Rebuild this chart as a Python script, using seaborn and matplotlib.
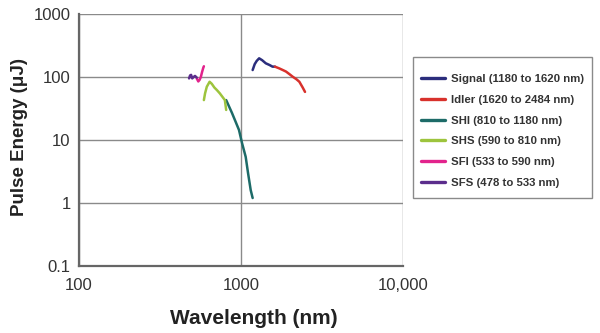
import pandas as pd
import numpy as np
import matplotlib
matplotlib.use('Agg')
import matplotlib.pyplot as plt
import matplotlib.patches as patches
import seaborn as sns
from matplotlib.ticker import FixedLocator, FixedFormatter, LogLocator, NullFormatter

# values (wavelength nm, pulse energy uJ)
signal_wl = [1180, 1215, 1250, 1294, 1350, 1422, 1500, 1565, 1620]
signal_e = [129, 160, 180, 198, 185, 165, 155, 146, 146]

idler_wl = [1620, 1722, 1800, 1896, 2000, 2086, 2200, 2292, 2404, 2484]
idler_e = [146, 137, 130, 122, 110, 101, 92, 84, 68, 58]

shi_wl = [810, 879, 930, 972, 1014, 1069, 1105, 1148, 1180]
shi_e = [43, 27, 19, 14.4, 9.0, 5.4, 3.0, 1.6, 1.2]

shs_wl = [590, 600, 615, 640, 660, 685, 710, 740, 770, 795, 810]
shs_e = [43, 55, 70, 84, 78, 68, 62, 55, 48, 43, 30]

sfi_wl = [533, 545, 555, 565, 575, 585, 590]
sfi_e = [95, 85, 90, 100, 120, 140, 148]

sfs_wl = [478, 485, 492, 500, 510, 520, 533]
sfs_e = [95, 106, 108, 95, 100, 104, 98]

labels = ['Signal (1180 to 1620 nm)', 'Idler (1620 to 2484 nm)', 'SHI (810 to 1180 nm)',
          'SHS (590 to 810 nm)', 'SFI (533 to 590 nm)', 'SFS (478 to 533 nm)']
colors = ['#2b2d7c', '#d8312c', '#1d6b68', '#9dc43d', '#e2238c', '#5b2d8c']

series = [(signal_wl, signal_e), (idler_wl, idler_e), (shi_wl, shi_e),
          (shs_wl, shs_e), (sfi_wl, sfi_e), (sfs_wl, sfs_e)]
frames = []
for lab, (wl, e) in zip(labels, series):
    frames.append(pd.DataFrame({'Wavelength': wl, 'Energy': e, 'Band': lab}))
df = pd.concat(frames, ignore_index=True)

sns.set_style('white')
plt.rcParams['font.family'] = ['Liberation Sans', 'DejaVu Sans']

fig = plt.figure(figsize=(6, 3.33), dpi=100)
ax = fig.add_axes([79/600, 1-266/333, (403-79)/600, (266-14)/333])

sns.lineplot(data=df, x='Wavelength', y='Energy', hue='Band', hue_order=labels,
             palette=dict(zip(labels, colors)), sort=False, estimator=None,
             linewidth=1.8, ax=ax)

ax.set_xscale('log')
ax.set_yscale('log')
ax.set_xlim(100, 10000)
ax.set_ylim(0.1, 1000)

ax.xaxis.set_major_locator(FixedLocator([100, 1000, 10000]))
ax.xaxis.set_major_formatter(FixedFormatter(['100', '1000', '10,000']))
ax.xaxis.set_minor_locator(LogLocator(base=10, subs=np.arange(2, 10)))
ax.xaxis.set_minor_formatter(NullFormatter())
ax.yaxis.set_major_locator(FixedLocator([0.1, 1, 10, 100, 1000]))
ax.yaxis.set_major_formatter(FixedFormatter(['0.1', '1', '10', '100', '1000']))
ax.yaxis.set_minor_locator(FixedLocator([]))

ax.grid(True, which='major', color='#8a8a8a', linewidth=1.0)
for s in ['top', 'right']:
    ax.spines[s].set_visible(False)
for s in ['left', 'bottom']:
    ax.spines[s].set_color('#666666')
    ax.spines[s].set_linewidth(1.6)

ax.tick_params(axis='both', which='major', direction='out', length=4, width=1,
               color='#666666', labelsize=12, labelcolor='#333333')
ax.tick_params(axis='x', which='major', pad=5)
ax.tick_params(axis='y', which='major', pad=2)
ax.tick_params(axis='x', which='minor', direction='inout', length=3, width=0.8, color='#666666')

ax.set_xlabel('Wavelength (nm)', fontsize=15, fontweight='bold', color='#222222')
ax.set_ylabel('Pulse Energy (\u03bcJ)', fontsize=13.5, fontweight='bold', color='#222222')
ax.xaxis.set_label_coords(0.54, -0.171)
ax.yaxis.set_label_coords(-0.156, 0.51)

# legend entries without frame, box drawn separately to match the taller padding
leg = ax.legend(loc='center left', bbox_to_anchor=(421/600, 1-131/333),
                bbox_transform=fig.transFigure, frameon=False,
                borderaxespad=0, borderpad=0, prop={'weight': 'bold', 'size': 8.2},
                handlelength=2.1, labelspacing=0.95, handletextpad=0.5)
for line in leg.get_lines():
    line.set_linewidth(2.4)
for t in leg.get_texts():
    t.set_color('#333333')

box = patches.Rectangle((413/600, 1-198/333), 179/600, 141/333, transform=fig.transFigure,
                        fill=False, edgecolor='#8a8a8a', linewidth=1.0)
fig.patches.append(box)

fig.savefig('out.png', dpi=100)
